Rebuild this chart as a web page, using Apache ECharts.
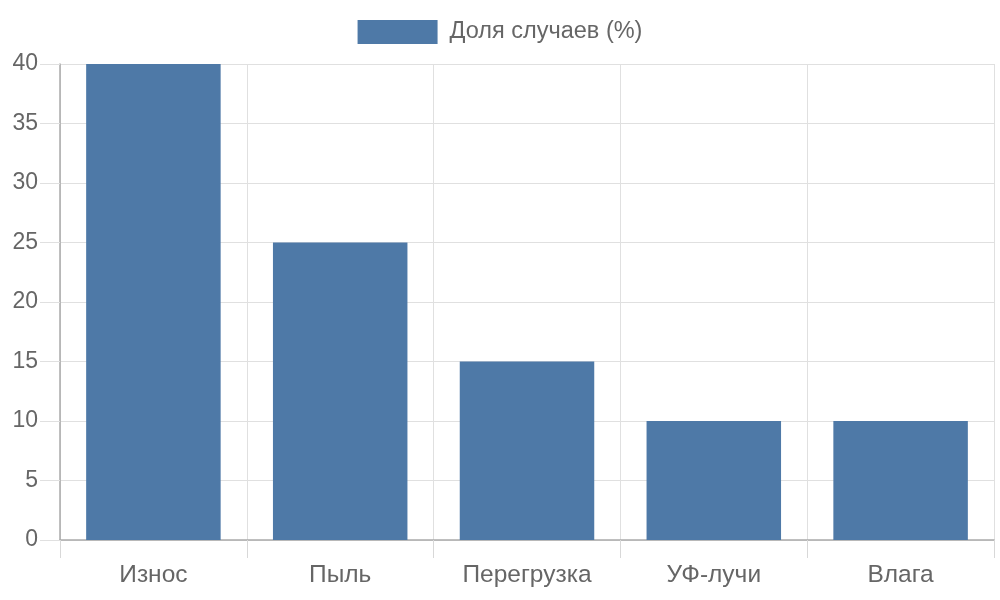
<!DOCTYPE html>
<html>
<head>
<meta charset="utf-8">
<script src="https://cdn.jsdelivr.net/npm/echarts@6/dist/echarts.min.js"></script>
<style>
  html, body { margin: 0; padding: 0; background: #fff; }
  #chart { width: 1000px; height: 600px; }
</style>
</head>
<body>
<div id="chart"></div>
<script>
const categories = ["Износ", "Пыль", "Перегрузка", "УФ-лучи", "Влага"];
const shares = [40, 25, 15, 10, 10];
const seriesName = "Доля случаев (%)";

const myChart = echarts.init(document.getElementById("chart"));
const option = {
  animation: false,
  textStyle: { fontFamily: "Liberation Sans, Arial, sans-serif" },
  legend: {
    top: 15,
    left: "center",
    itemWidth: 80,
    itemHeight: 24,
    icon: "rect",
    textStyle: { fontSize: 23.5, color: "#666", padding: [4, 0, 0, 7] },
    data: [seriesName]
  },
  grid: { left: 60, right: 6, top: 64, bottom: 60, containLabel: false },
  xAxis: {
    type: "category",
    data: categories,
    axisLine: { show: true, lineStyle: { color: "#aaa", width: 1.5 } },
    axisTick: { show: true, length: 18, lineStyle: { color: "#d8d8d8" } },
    axisLabel: { fontSize: 24.5, color: "#666", margin: 23 },
    splitLine: { show: true, lineStyle: { color: "#e0e0e0" } }
  },
  yAxis: {
    type: "value",
    min: 0,
    max: 40,
    interval: 5,
    axisLine: { show: true, lineStyle: { color: "#aaa", width: 1.5 } },
    axisTick: { show: true, length: 20, lineStyle: { color: "#e0e0e0" } },
    axisLabel: { fontSize: 23, color: "#666", margin: 22, padding: [4, 0, 0, 0] },
    splitLine: { show: true, lineStyle: { color: "#e0e0e0" } }
  },
  series: [
    {
      name: seriesName,
      type: "bar",
      data: shares,
      barCategoryGap: "28%",
      itemStyle: { color: "#4e79a7" }
    }
  ]
};
myChart.setOption(option);
</script>
</body>
</html>
